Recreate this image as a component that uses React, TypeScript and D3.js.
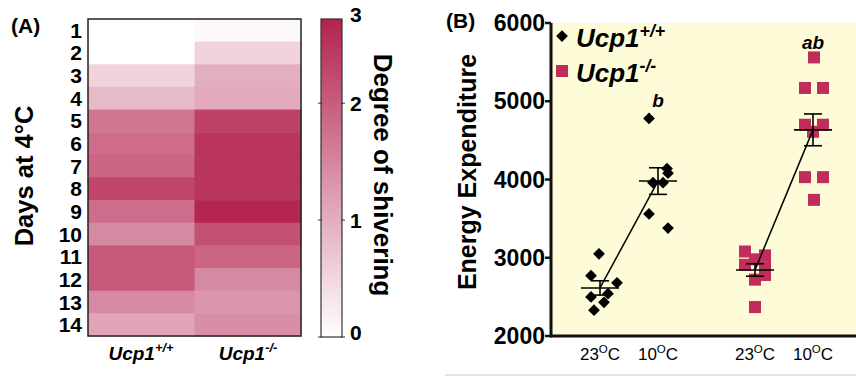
import React from "react";
import * as d3 from "d3";

const days = ["1","2","3","4","5","6","7","8","9","10","11","12","13","14"];
const genotypes = ["+/+", "-/-"];
const shiverWT = [0, 0, 0.55, 0.85, 1.7, 1.8, 1.9, 2.3, 1.8, 1.45, 2.05, 2.05, 1.45, 1.1];
const shiverKO = [0.08, 0.55, 1.0, 1.05, 2.35, 2.5, 2.5, 2.5, 2.7, 2.15, 1.9, 1.45, 1.3, 1.4];
const colorTicks = [0, 1, 2];

const wt23 = [3050, 2770, 2680, 2500, 2540, 2430, 2330];
const wt10 = [4780, 4140, 4080, 3960, 3960, 3560, 3380];
const ko23 = [3080, 3030, 2980, 2910, 2880, 2780, 2720, 2370];
const ko10 = [5560, 5170, 5170, 4700, 4700, 4610, 4030, 4030, 3740];
const wt23x = [-1, -9, 17, -9, 8, 4, -6];
const wt10x = [-9, 9, 10, -5, 5, -9, 10];
const ko23x = [-10, 10, 0, -10, 10, 10, 0, 0];
const ko10x = [1, -8, 10, -8, 10, 0, -8, 10, 1];
const eTicks = [2000, 3000, 4000, 5000, 6000];
const xCats = ["wt23", "wt10", "ko23", "ko10"];

const mean = (a: number[]) => d3.mean(a) as number;
const sem = (a: number[]) => (d3.deviation(a) as number) / Math.sqrt(a.length);

function Geno({ x, y, sup, size, anchor }: any) {
  return (
    <text x={x} y={y} fontSize={size} fontWeight="bold" fontStyle="italic" textAnchor={anchor} fontFamily="Liberation Sans, Arial, sans-serif">
      Ucp1<tspan dy={-size * 0.4} fontSize={size * 0.68}>{sup}</tspan>
    </text>
  );
}

function Temp({ x, y, t }: any) {
  return (
    <text x={x} y={y} fontSize={17} textAnchor="middle" fontFamily="Liberation Sans, Arial, sans-serif">
      {t}<tspan dy={-7} fontSize={11.5}>O</tspan><tspan dy={7}>C</tspan>
    </text>
  );
}

export default function App() {
  const font = "Liberation Sans, Arial, sans-serif";
  const maxC = "#b3234f";
  const color = d3.scaleLinear<string>().domain([0, 2.72]).range(["#ffffff", maxC]).interpolate(d3.interpolateRgb);

  // heatmap
  const hx = d3.scaleBand().domain(genotypes).range([88, 301]);
  const hy = d3.scaleBand().domain(days).range([19, 336]);
  const cbY = d3.scaleLinear().domain([0, 2.72]).range([337, 19]);
  const gradStops = d3.range(0, 1.0001, 0.1);

  // panel B
  const ey = d3.scaleLinear().domain([2000, 6000]).range([336, 23]);
  const ex = d3.scaleOrdinal<string, number>().domain(xCats).range([600, 658, 755, 813]);
  const groups = [
    { k: "wt23", v: wt23, dx: wt23x, ko: false },
    { k: "wt10", v: wt10, dx: wt10x, ko: false },
    { k: "ko23", v: ko23, dx: ko23x, ko: true },
    { k: "ko10", v: ko10, dx: ko10x, ko: true },
  ];
  const diamond = d3.symbol().type(d3.symbolDiamond2 ?? d3.symbolDiamond).size(88)();
  const line = d3.line<[number, number]>().x(d => d[0]).y(d => d[1]);

  return (
    <svg width={856} height={378} style={{ position: "absolute", left: 0, top: 0 }}>
      <rect x={0} y={0} width={856} height={378} fill="#ffffff" />
      {/* Panel A */}
      <text x={11} y={33} fontSize={21} fontWeight="bold" fontFamily={font}>(A)</text>
      {days.map((d, i) => (
        <g key={d}>
          <rect x={hx("+/+")} y={hy(d)} width={hx.bandwidth() + 0.5} height={hy.bandwidth() + 0.5} fill={color(shiverWT[i])} />
          <rect x={hx("-/-")} y={hy(d)} width={hx.bandwidth() + 0.5} height={hy.bandwidth() + 0.5} fill={color(shiverKO[i])} />
          <text x={82} y={(hy(d) as number) + hy.bandwidth() / 2 + 7.5} fontSize={21} fontWeight="bold" textAnchor="end" fontFamily={font}>{d}</text>
        </g>
      ))}
      <rect x={88} y={19} width={213} height={317} fill="none" stroke="#222" strokeWidth={1.5} />
      <text transform="translate(33,176) rotate(-90)" fontSize={25.5} fontWeight="bold" textAnchor="middle" fontFamily={font}>Days at 4°C</text>
      <Geno x={141} y={360} sup="+/+" size={19} anchor="middle" />
      <Geno x={248} y={360} sup="-/-" size={19} anchor="middle" />
      {/* colorbar */}
      <defs>
        <linearGradient id="cb" x1="0" y1="1" x2="0" y2="0">
          {gradStops.map(t => (
            <stop key={t} offset={t} stopColor={color(t * 2.72)} />
          ))}
        </linearGradient>
      </defs>
      <rect x={321} y={19} width={21} height={318} fill="url(#cb)" stroke="#333" strokeWidth={1.2} />
      {colorTicks.map(t => (
        <g key={t}>
          <line x1={318} x2={322} y1={cbY(t)} y2={cbY(t)} stroke="#333" />
          <line x1={341} x2={345} y1={cbY(t)} y2={cbY(t)} stroke="#333" />
          <text x={350} y={cbY(t) + (t === 0 ? 3 : 8)} fontSize={21} fontWeight="bold" fontFamily={font}>{t}</text>
        </g>
      ))}
      <text x={350} y={22} fontSize={21} fontWeight="bold" fontFamily={font}>3</text>
      <text transform="translate(374,175) rotate(90)" fontSize={26} textAnchor="middle" fontFamily={font} fontWeight="bold">Degree of shivering</text>

      {/* Panel B */}
      <text x={446} y={28} fontSize={21} fontWeight="bold" fontFamily={font}>(B)</text>
      <rect x={551} y={ey(6000)} width={856 - 551} height={ey(2000) - ey(6000)} fill="#fdfbd8" />
      <line x1={551} x2={856} y1={ey(2000)} y2={ey(2000)} stroke="#111" strokeWidth={3} />
      <line x1={551} x2={551} y1={ey(6000)} y2={ey(2000) + 1.5} stroke="#111" strokeWidth={3} />
      {eTicks.map(t => (
        <g key={t}>
          <line x1={545} x2={551} y1={ey(t)} y2={ey(t)} stroke="#111" strokeWidth={2.5} />
          <text x={545} y={ey(t) + 8} fontSize={23} fontWeight="bold" textAnchor="end" fontFamily={font}>{t}</text>
        </g>
      ))}
      <text transform="translate(476,172) rotate(-90)" fontSize={25} fontWeight="bold" textAnchor="middle" fontFamily={font}>Energy Expenditure</text>
      <Temp x={ex("wt23")} y={360} t="23" />
      <Temp x={ex("wt10")} y={360} t="10" />
      <Temp x={ex("ko23")} y={360} t="23" />
      <Temp x={ex("ko10")} y={360} t="10" />
      <line x1={445} x2={856} y1={375} y2={375} stroke="#e4e4e4" strokeWidth={2} />

      {/* points */}
      {groups.map(g => g.v.map((v, i) => g.ko ? (
        <rect key={g.k + i} x={ex(g.k) + g.dx[i] - 6} y={ey(v) - 6} width={12} height={12} fill="#c02d5a" />
      ) : (
        <path key={g.k + i} d={diamond as string} transform={`translate(${ex(g.k) + g.dx[i]},${ey(v)})`} fill="#000" />
      )))}
      {/* connecting lines */}
      <path d={line([[ex("wt23"), ey(mean(wt23))], [ex("wt10"), ey(mean(wt10))]]) as string} stroke="#000" strokeWidth={1.5} fill="none" />
      <path d={line([[ex("ko23"), ey(mean(ko23))], [ex("ko10"), ey(mean(ko10))]]) as string} stroke="#000" strokeWidth={1.5} fill="none" />
      {/* mean and sem */}
      {groups.map(g => {
        const m = mean(g.v), s = sem(g.v), cx = ex(g.k);
        return (
          <g key={g.k} stroke="#000" strokeWidth={1.6}>
            <line x1={cx - 19} x2={cx + 19} y1={ey(m)} y2={ey(m)} />
            <line x1={cx} x2={cx} y1={ey(m + s)} y2={ey(m - s)} />
            <line x1={cx - 9} x2={cx + 9} y1={ey(m + s)} y2={ey(m + s)} />
            <line x1={cx - 9} x2={cx + 9} y1={ey(m - s)} y2={ey(m - s)} />
          </g>
        );
      })}
      <text x={ex("wt10")} y={107} fontSize={19} fontWeight="bold" fontStyle="italic" textAnchor="middle" fontFamily={font}>b</text>
      <text x={ex("ko10")} y={49} fontSize={19} fontWeight="bold" fontStyle="italic" textAnchor="middle" fontFamily={font}>ab</text>
      {/* legend */}
      <path d={diamond as string} transform="translate(562,36)" fill="#000" />
      <Geno x={576} y={47} sup="+/+" size={26} anchor="start" />
      <rect x={556} y={65} width={12} height={12} fill="#c02d5a" />
      <Geno x={576} y={82} sup="-/-" size={26} anchor="start" />
    </svg>
  );
}
